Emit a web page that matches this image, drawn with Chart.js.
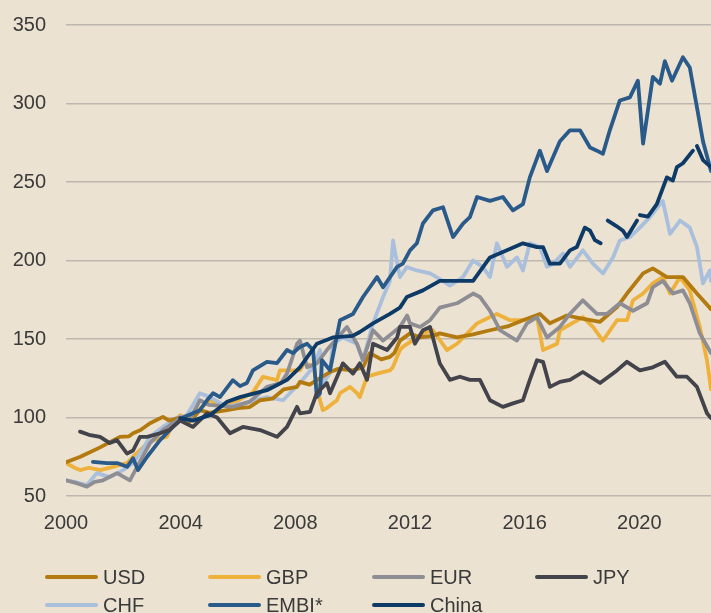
<!DOCTYPE html>
<html>
<head>
<meta charset="utf-8">
<script src="https://cdn.jsdelivr.net/npm/chart.js@4.4.1/dist/chart.umd.min.js"></script>
<style>
  html, body { margin: 0; padding: 0; background: #ECE2D2; }
  #wrap { position: relative; width: 711px; height: 613px; background: #ECE2D2; overflow: hidden; }
  #c { position: absolute; left: 0; top: 0; }
  .lg { position: absolute; display: flex; align-items: center; font-family: "Liberation Sans", Arial, sans-serif; font-size: 20px; color: #3a3a3a; white-space: nowrap; }
  .lg span.ln { display: inline-block; width: 53px; height: 4.5px; border-radius: 3px; margin-right: 5px; }
</style>
</head>
<body>
<div id="wrap">
  <canvas id="c" width="711" height="613"></canvas>
</div>
<script>
// ---- data (year, index value) ----
const seriesNames = ['USD', 'GBP', 'EUR', 'JPY', 'CHF', 'EMBI*', 'China'];
const xTickYears = [2000, 2004, 2008, 2012, 2016, 2020];
const yTickValues = [50, 100, 150, 200, 250, 300, 350];

const USD = [[2000.0,71.5],[2000.5,75],[2001.19,81],[2001.5,84],[2001.88,87.7],[2002.2,88],[2002.34,90],[2002.6,92],[2002.93,96.4],[2003.38,100.4],[2003.6,98],[2003.98,100],[2004.3,97],[2004.67,104.7],[2005.0,103],[2005.62,104.7],[2006.0,106],[2006.4,106.6],[2006.77,111],[2007.2,112],[2007.6,118],[2008.06,119.5],[2008.16,122.7],[2008.5,121],[2008.75,123.8],[2009.21,129],[2009.5,131],[2010.0,130],[2010.36,132],[2010.6,141],[2011.0,137],[2011.3,138.6],[2011.45,141],[2011.65,149],[2012.0,153.6],[2012.35,151],[2012.8,152],[2013.04,153.6],[2013.64,151],[2014.2,153],[2014.79,155.6],[2015.4,158],[2015.94,162],[2016.53,166],[2016.88,160],[2017.23,163],[2017.47,165],[2018.0,163],[2018.63,161],[2019.22,170.4],[2019.57,179],[2020.13,191.8],[2020.47,195],[2020.96,189.5],[2021.52,189.5],[2022.01,179],[2022.5,169]];

const GBP = [[2000.0,71],[2000.3,68],[2000.49,66.5],[2000.8,68],[2001.19,66.5],[2001.64,68.6],[2001.9,70],[2002.13,71],[2002.34,75],[2002.69,81],[2003.03,85.6],[2003.52,87.7],[2003.73,96.4],[2003.98,101.5],[2004.3,99],[2004.7,106],[2005.02,111],[2005.4,108],[2005.82,109],[2006.52,116],[2006.87,125.9],[2007.36,123.8],[2007.46,130],[2008.16,130],[2008.3,134.5],[2008.62,133],[2008.86,111],[2008.96,104.7],[2009.1,106],[2009.45,111],[2009.56,115.5],[2009.91,119.5],[2010.15,115.5],[2010.25,113],[2010.5,126],[2010.85,128],[2011.3,130],[2011.4,132],[2011.65,143],[2011.75,145],[2012.45,153.6],[2012.8,155.6],[2013.29,142.9],[2013.64,147],[2014.34,160],[2014.79,164],[2015.03,166],[2015.49,162],[2015.94,162],[2016.43,164],[2016.64,143],[2017.13,147],[2017.23,155.6],[2018.03,164],[2018.38,157.7],[2018.73,149],[2019.22,162],[2019.57,162],[2019.78,174.7],[2020.13,179],[2020.47,185.5],[2020.82,189.5],[2021.07,179],[2021.42,189.5],[2021.76,181],[2022.11,157.7],[2022.36,136.5],[2022.5,118]];

const EUR = [[2000.0,60],[2000.4,58],[2000.73,56],[2001.0,59],[2001.29,60],[2001.78,64.6],[2002.23,60],[2002.48,68.6],[2002.93,83.7],[2003.38,92],[2003.87,98],[2004.0,100],[2004.3,98],[2004.67,111],[2005.0,108],[2005.82,106.8],[2006.4,110],[2007.01,119.5],[2007.5,122],[2007.71,128],[2008.06,147],[2008.16,149],[2008.41,132],[2008.75,134.5],[2009.1,143],[2009.8,157.7],[2010.15,147],[2010.36,136.5],[2010.71,155.6],[2011.06,149],[2011.65,157.7],[2011.9,165],[2012.0,160],[2012.35,157.7],[2012.7,162],[2013.04,170],[2013.64,172.8],[2014.2,179],[2014.44,176.8],[2014.79,168],[2015.14,155.6],[2015.73,149],[2016.08,160],[2016.43,164],[2016.78,151],[2017.23,157.7],[2017.58,166],[2018.03,174.7],[2018.52,166],[2018.87,166],[2019.32,172.8],[2019.78,168],[2020.27,172.8],[2020.47,183],[2020.82,187],[2021.17,179],[2021.52,181],[2021.76,172.8],[2022.11,153.6],[2022.5,141]];

const JPY = [[2000.49,91],[2000.8,89],[2001.19,87.7],[2001.53,83.7],[2001.78,85.6],[2002.13,77],[2002.34,79],[2002.58,87.7],[2002.83,87.7],[2003.28,90],[2003.6,92],[2003.98,98],[2004.43,94],[2004.92,102.7],[2005.27,100],[2005.72,90],[2006.17,94],[2006.77,92],[2007.36,87.7],[2007.71,94],[2008.06,106.8],[2008.16,102.7],[2008.51,103.6],[2008.75,115.5],[2009.1,122],[2009.21,115.5],[2009.66,134.5],[2010.01,128],[2010.25,134.5],[2010.5,124],[2010.71,147],[2011.2,143],[2011.55,151],[2011.65,157.7],[2012.0,157.7],[2012.17,147],[2012.45,155.6],[2012.7,157.7],[2013.04,134.5],[2013.39,124],[2013.74,126],[2014.09,124],[2014.44,124],[2014.79,111],[2015.24,106.8],[2015.59,109],[2015.94,111],[2016.18,124],[2016.43,136.5],[2016.64,135.5],[2016.88,119.5],[2017.23,122.7],[2017.58,124],[2018.03,129],[2018.63,122],[2019.22,130],[2019.57,135.5],[2020.02,130],[2020.47,132],[2020.89,135.5],[2021.31,126],[2021.66,126],[2022.01,119.5],[2022.36,102.7],[2022.5,99.6]];

const CHF = [[2000.0,60],[2000.3,59],[2000.73,57],[2001.08,64.6],[2001.53,62],[2001.99,66.5],[2002.34,71],[2002.58,77],[2002.93,87.7],[2003.38,94],[2003.87,100],[2004.2,101],[2004.67,115.5],[2005.02,113],[2005.62,106.8],[2006.17,109],[2007.01,113],[2007.57,111],[2008.16,122],[2008.62,132],[2008.86,143],[2008.96,122],[2009.2,128],[2009.31,147],[2009.66,151],[2010.15,147],[2010.36,136.5],[2010.71,160],[2011.06,176.8],[2011.3,187],[2011.41,212.8],[2011.48,205],[2011.65,189.5],[2011.89,195.8],[2012.24,193.7],[2012.7,191.8],[2013.15,187],[2013.39,184],[2013.85,189.5],[2014.2,200],[2014.54,196],[2014.79,189.5],[2015.03,211],[2015.38,196],[2015.73,202],[2015.94,193.7],[2016.18,211],[2016.53,208.6],[2016.78,196],[2016.99,198],[2017.34,204.5],[2017.58,196],[2018.03,206.5],[2018.38,198],[2018.73,191.8],[2019.08,202],[2019.32,212.8],[2019.67,215],[2020.02,221],[2020.37,227.7],[2020.82,238],[2021.07,217],[2021.42,225.5],[2021.76,221],[2022.01,208.6],[2022.22,185.5],[2022.46,193.7],[2022.5,187]];

const EMBI = [[2000.94,71.8],[2001.43,71],[2001.78,71],[2002.13,68.6],[2002.34,74],[2002.51,66.5],[2002.83,75],[2003.28,85.6],[2003.73,94],[2004.08,100],[2004.67,104.7],[2004.92,111],[2005.13,115.5],[2005.37,113],[2005.82,123.8],[2006.07,120],[2006.31,122],[2006.52,130],[2007.01,135.5],[2007.36,134.6],[2007.71,143],[2007.92,141],[2008.16,145],[2008.41,147],[2008.62,143],[2008.75,113],[2008.86,115.5],[2008.93,136.5],[2009.21,130],[2009.56,162],[2010.01,166],[2010.36,176.8],[2010.6,183],[2010.85,189.5],[2011.06,183],[2011.55,196],[2011.75,198],[2012.0,206.5],[2012.24,211],[2012.45,223.6],[2012.8,232],[2013.15,234],[2013.5,215],[2013.85,223.6],[2014.09,227.7],[2014.34,240.5],[2014.79,238],[2015.24,240.5],[2015.59,232],[2015.94,236],[2016.18,253],[2016.53,270],[2016.78,257],[2017.23,276],[2017.58,283],[2017.93,283],[2018.28,272],[2018.52,270],[2018.73,268],[2018.97,283],[2019.32,302],[2019.67,304],[2019.95,314.6],[2020.13,274.5],[2020.47,317],[2020.72,312.7],[2020.89,327],[2021.14,314.6],[2021.52,329.5],[2021.76,323],[2022.01,297.6],[2022.22,276],[2022.5,257]];

const CHINA = [[2003.98,99.6],[2004.43,98],[2005.02,101.5],[2005.62,110],[2006.07,113],[2007.01,117.4],[2007.71,124],[2008.16,132],[2008.75,147],[2009.31,151],[2010.0,152],[2010.25,154.5],[2010.71,160],[2011.3,166],[2011.65,170],[2011.89,176.8],[2012.45,181],[2013.04,187],[2013.64,187],[2014.2,187],[2014.79,202],[2015.38,206.5],[2015.94,211],[2016.43,208.6],[2016.64,208.6],[2016.88,198],[2017.23,198],[2017.58,206.5],[2017.82,208.6],[2018.1,221],[2018.28,219],[2018.45,213],[2018.65,211],[2018.78,null],[2018.9,225.5],[2019.2,222],[2019.43,219],[2019.57,215],[2019.92,225.5],[2019.97,null],[2020.02,229],[2020.3,228],[2020.61,236],[2020.96,253],[2021.17,251],[2021.31,259.5],[2021.52,262],[2021.87,270],[2021.94,null],[2022.01,273],[2022.22,264],[2022.5,259.5]];

// ---- styles ----
const colors = ['#B27A0F', '#EDB13C', '#8D8D93', '#43434B', '#A9BFDC', '#2A5A89', '#0D3A66'];
const seriesData = [USD, GBP, EUR, JPY, CHF, EMBI, CHINA];
const drawOrder = [4, 6, 3, 1, 5, 2, 0]; // lower = on top

const textColor = '#3a3a3a';
const fontFamily = '"Liberation Sans", Arial, sans-serif';

const datasets = seriesNames.map((n, i) => ({
  label: n,
  data: seriesData[i],
  borderColor: colors[i],
  backgroundColor: colors[i],
  borderWidth: 3.8,
  pointRadius: 0,
  tension: 0,
  spanGaps: false,
  fill: false,
  borderJoinStyle: 'round',
  borderCapStyle: 'round',
  order: drawOrder[i]
}));

const bgPlugin = {
  id: 'bg',
  beforeDraw(chart) {
    const ctx = chart.ctx;
    ctx.save();
    ctx.fillStyle = '#ECE2D2';
    ctx.fillRect(0, 0, chart.width, chart.height);
    ctx.restore();
  }
};

new Chart(document.getElementById('c'), {
  type: 'line',
  data: { datasets },
  plugins: [bgPlugin],
  options: {
    responsive: false,
    animation: false,
    devicePixelRatio: 1,
    layout: { padding: { left: 0, right: 0, top: 0, bottom: 77 } },
    plugins: { legend: { display: false }, tooltip: { enabled: false } },
    scales: {
      x: {
        type: 'linear',
        min: 2000,
        max: 2022.5,
        grid: { display: false, drawTicks: false },
        border: { display: false },
        afterBuildTicks: (s) => { s.ticks = xTickYears.map(v => ({ value: v })); },
        afterFit: (s) => { s.height = 40; s.paddingLeft = 0; s.paddingRight = 0; },
        ticks: {
          autoSkip: false,
          maxRotation: 0,
          padding: 15,
          color: textColor,
          font: { family: fontFamily, size: 20 },
          callback: (v) => String(v)
        }
      },
      y: {
        type: 'linear',
        min: 50,
        max: 366,
        grid: { color: '#BDB7AE', lineWidth: 1.5, drawTicks: false },
        border: { display: false },
        afterBuildTicks: (s) => { s.ticks = yTickValues.map(v => ({ value: v })); },
        afterFit: (s) => { s.width = 66; s.paddingTop = 0; s.paddingBottom = 0; },
        ticks: {
          padding: 20,
          color: textColor,
          font: { family: fontFamily, size: 20 },
          callback: (v) => String(v)
        }
      }
    }
  }
});

// ---- HTML legend ----
const wrap = document.getElementById('wrap');
const colX = [45, 208, 372, 535];
const rowY = [577, 605];
seriesNames.forEach((n, i) => {
  const d = document.createElement('div');
  d.className = 'lg';
  const col = i % 4, row = Math.floor(i / 4);
  d.style.left = colX[col] + 'px';
  d.style.top = (rowY[row] - 12) + 'px';
  d.style.height = '24px';
  const ln = document.createElement('span');
  ln.className = 'ln';
  ln.style.background = colors[i];
  const tx = document.createElement('span');
  tx.textContent = n;
  d.appendChild(ln);
  d.appendChild(tx);
  wrap.appendChild(d);
});
</script>
</body>
</html>
